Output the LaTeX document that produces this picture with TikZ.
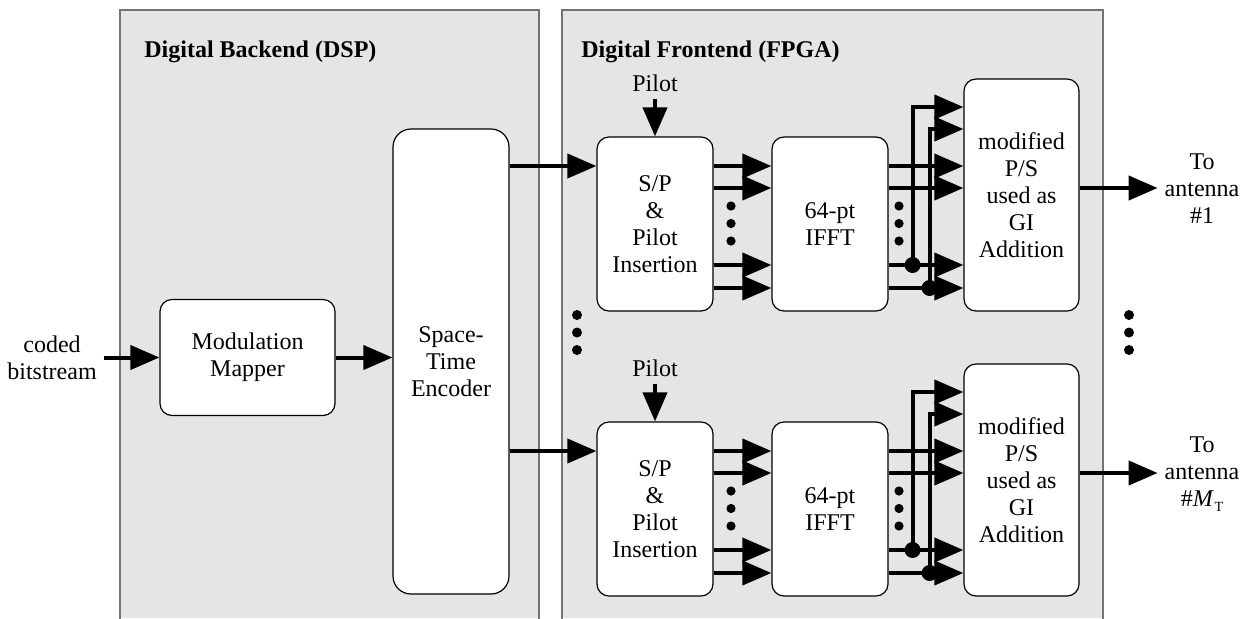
\documentclass[tikz,border=0pt]{standalone}
\usepackage{fontspec}
\setmainfont{Liberation Serif}
\usetikzlibrary{arrows.meta,calc}
\tikzset{
  blk/.style={draw,fill=white,line width=0.6pt,rounded corners=6pt,align=center,inner sep=0pt},
  arr/.style={line width=2pt,-{Triangle[length=14.5pt,width=12pt]}},
  wire/.style={line width=2pt},
  panel/.style={fill=black!10},
  panelline/.style={draw=black!55,line width=0.8pt},
  lbl/.style={align=center},
  head/.style={font=\fontsize{12}{13.5}\selectfont\bfseries,anchor=base west,inner sep=0pt},
}
\newcommand\fegroup[3]{%
\begin{scope}[shift={(0,#2)}]
  \node[blk,minimum width=58pt,minimum height=87pt] (sp#1) at (655,224) {S/P\\\&\\Pilot\\Insertion};
  \node[blk,minimum width=58pt,minimum height=87pt] (fft#1) at (830,224) {64-pt\\IFFT};
  \node[blk,minimum width=57.5pt,minimum height=116pt] (ps#1) at (1021.5,195) {modified\\P/S\\used as\\GI\\Addition};
  \node (pl#1) at (655,83) {Pilot};
  \draw[arr] (pl#1) -- (sp#1);
  \path ([yshift=29pt]sp#1.west) coordinate (in#1);
  \draw[arr] (st.east |- in#1) -- (in#1);
  \foreach \s in {29pt,18pt,-20.5pt,-32pt}{
    \draw[arr] ([yshift=\s]sp#1.east) -- ([yshift=\s]fft#1.west);
    \path ([yshift=\s]fft#1.east) coordinate (r#1);
    \draw[arr] (r#1) -- (r#1 -| ps#1.west);
  }
  \path ([xshift=12pt,yshift=-20.5pt]fft#1.east) coordinate (ja#1);
  \path ([xshift=20.5pt,yshift=-32pt]fft#1.east) coordinate (jb#1);
  \draw[arr] (ja#1) |- ([yshift=44pt]ps#1.west);
  \draw[arr] (jb#1) |- ([yshift=33pt]ps#1.west);
  \fill (ja#1) circle (4pt);
  \fill (jb#1) circle (4pt);
  \foreach \y in {206,223.5,241}{
    \fill (731,\y) circle (2.3pt);
    \fill (899,\y) circle (2.3pt);
  }
  \node[lbl] (ant#1) at (1202,189) {To\\antenna\\#3};
  \path ([yshift=3.5pt]ps#1.east) coordinate (o#1);
  \draw[arr] (o#1) -- (o#1 -| ant#1.west);
\end{scope}}
\begin{document}
\begin{tikzpicture}[x=0.5pt,y=-0.5pt,font=\fontsize{12}{13.5}\selectfont]
\useasboundingbox (0,0) rectangle (1253,618);
% panels
\fill[panel] (120,10) rectangle (539,618);
\draw[panelline] (120,620) -- (120,10) -- (539,10) -- (539,620);
\fill[panel] (562,10) rectangle (1103,618);
\draw[panelline] (562,620) -- (562,10) -- (1103,10) -- (1103,620);
\node[head] (hb) at (144,57) {Digital Backend (DSP)};
\node[head] (hf) at (581,57) {Digital Frontend (FPGA)};
% backend
\node[lbl] (cb) at (52,357.5) {coded\\bitstream};
\node[blk,minimum width=87.5pt,minimum height=58pt] (mm) at (247.5,357.5) {Modulation\\Mapper};
\node[blk,rounded corners=9pt,minimum width=58pt,minimum height=232.5pt] (st) at (451,361.5) {Space-\\Time\\Encoder};
\draw[arr] (cb) -- (mm);
\draw[arr] (mm.east) -- (mm.east -| st.west);
% frontend groups
\fegroup{a}{0}{\#1}
\fegroup{b}{285}{\#\textit{M}\kern0.3pt\raisebox{-0.4ex}{\fontsize{7}{7}\selectfont T}}
% vertical ellipses between groups
\foreach \y in {315,332.5,350}{
  \fill (577,\y) circle (2.5pt);
  \fill (1129,\y) circle (2.5pt);
}
\end{tikzpicture}
\end{document}
